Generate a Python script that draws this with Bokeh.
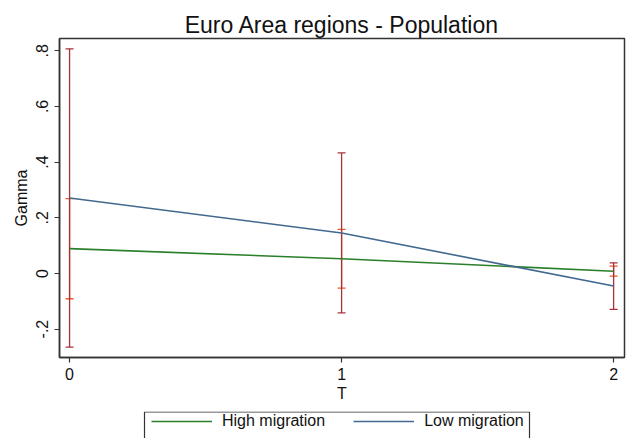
from bokeh.plotting import figure
from bokeh.layouts import column
from bokeh.models import (ColumnDataSource, Whisker, TeeHead, FixedTicker, Legend,
                          LegendItem, Range1d, BoxAnnotation)
from bokeh.embed import file_html
from bokeh.resources import INLINE

# ---- data ----
T = [0, 1, 2]
high_mig = [0.089, 0.053, 0.008]
high_lo = [-0.091, -0.053, -0.010]
high_hi = [0.269, 0.158, 0.026]
low_mig = [0.271, 0.145, -0.045]
low_lo = [-0.265, -0.142, -0.129]
low_hi = [0.807, 0.433, 0.038]
y_ticks = [-0.2, 0, 0.2, 0.4, 0.6, 0.8]
y_tick_labels = ["-.2", "0", ".2", ".4", ".6", ".8"]
x_ticks = [0, 1, 2]
series_names = ["High migration", "Low migration"]

FONT = "Liberation Sans"
GREEN = "#2a7f2a"
BLUE = "#42698f"
RED = "#a8323c"
ORANGE = "#ec5a2a"
INK = "#111111"
LINE = "#333333"

W = 627
H_MAIN = 411
H_LEG = 27
B_LEFT, B_RIGHT = 59, 3

p = figure(width=W, height=H_MAIN, output_backend="svg", toolbar_location=None,
           x_range=Range1d(-0.037, 2.040), y_range=Range1d(-0.302, 0.844),
           min_border_left=B_LEFT, min_border_right=B_RIGHT, min_border_top=38,
           min_border_bottom=54)
p.title.text = "Euro Area regions - Population"
p.title.align = "center"
p.title.text_font = FONT
p.title.text_font_size = "23px"
p.title.text_font_style = "normal"
p.title.text_color = INK
p.title.standoff = 2
p.grid.visible = False
p.background_fill_color = "white"
p.border_fill_color = "white"
p.outline_line_color = LINE
p.outline_line_width = 1.5

src = ColumnDataSource(dict(T=T, high=high_mig, high_lo=high_lo, high_hi=high_hi,
                            low=low_mig, low_lo=low_lo, low_hi=low_hi))

p.line("T", "high", source=src, line_color=GREEN, line_width=1.6)
p.line("T", "low", source=src, line_color=BLUE, line_width=1.6)

for lo, hi, col in (("high_lo", "high_hi", ORANGE), ("low_lo", "low_hi", RED)):
    p.add_layout(Whisker(source=src, base="T", lower=lo, upper=hi,
                         line_color=col, line_width=1.3,
                         lower_head=TeeHead(size=8, line_color=col, line_width=1.3),
                         upper_head=TeeHead(size=8, line_color=col, line_width=1.3)))

# axes
p.xaxis.ticker = FixedTicker(ticks=x_ticks)
p.yaxis.ticker = FixedTicker(ticks=y_ticks)
p.yaxis.major_label_overrides = {t: l for t, l in zip(y_ticks, y_tick_labels)}
p.yaxis.major_label_orientation = "vertical"
for ax in (p.xaxis, p.yaxis):
    ax.axis_line_color = LINE
    ax.axis_line_width = 1.5
    ax.major_tick_line_color = LINE
    ax.major_tick_line_width = 1.2
    ax.major_tick_out = 5
    ax.major_tick_in = 0
    ax.minor_tick_line_color = None
    ax.major_label_text_font = FONT
    ax.major_label_text_font_size = "16px"
    ax.major_label_text_color = INK
    ax.axis_label_text_font = FONT
    ax.axis_label_text_font_size = "16px"
    ax.axis_label_text_font_style = "normal"
    ax.axis_label_text_color = INK
p.xaxis.axis_label = "T"
p.xaxis.major_label_standoff = 5
p.xaxis.axis_label_standoff = 2
p.yaxis.axis_label = "Gamma"
p.yaxis.major_label_standoff = 6
p.yaxis.axis_label_standoff = 4

# legend strip below the plot (its box continues past the bottom edge, as in the reference)
# x range set so that one data unit = one pixel of the page
q = figure(width=W, height=H_LEG, output_backend="svg", toolbar_location=None,
           x_range=Range1d(B_LEFT, W - B_RIGHT), y_range=Range1d(0, H_LEG),
           x_axis_location=None, y_axis_location=None,
           min_border_left=B_LEFT, min_border_right=B_RIGHT, min_border_top=0,
           min_border_bottom=0)
q.grid.visible = False
q.outline_line_color = None
q.border_fill_color = "white"
q.background_fill_color = "white"
q.add_layout(BoxAnnotation(left=144, right=529, top=H_LEG - 0.5, bottom=-20,
                           fill_alpha=0, line_color=LINE, line_alpha=1,
                           line_width=1.2))
# legend renderers reuse the series data; they fall outside this strip's x range
l_high = q.line("T", "high", source=src, line_color=GREEN, line_width=1.6)
l_low = q.line("T", "low", source=src, line_color=BLUE, line_width=1.6)
legend = Legend(items=[LegendItem(label=series_names[0], renderers=[l_high]),
                       LegendItem(label=series_names[1], renderers=[l_low])],
                orientation="horizontal", location=(151 - B_LEFT, 8),
                label_text_font=FONT, label_text_font_size="16px",
                label_text_color=INK, label_height=18, glyph_height=18,
                glyph_width=61, label_standoff=10, spacing=28,
                padding=0, margin=0, border_line_color=None,
                background_fill_alpha=0)
q.add_layout(legend, "center")

layout = column(p, q, spacing=0)
open("out.html", "w").write(file_html(layout, INLINE))
